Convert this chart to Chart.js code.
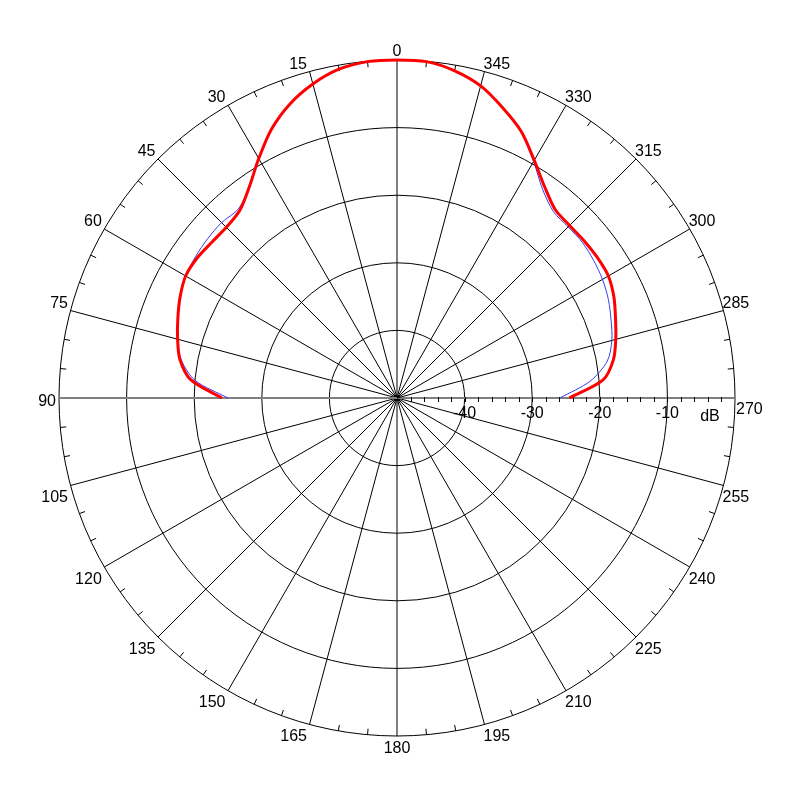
<!DOCTYPE html>
<html>
<head>
<meta charset="utf-8">
<title>Polar pattern</title>
<script src="https://cdn.jsdelivr.net/npm/chart.js@4.4.1/dist/chart.umd.min.js"></script>
<style>
    html, body { margin: 0; padding: 0; background: #fff; }
    #wrap { width: 800px; height: 800px; }
</style>
</head>
<body>
<div id="wrap"><canvas id="polarChart"></canvas></div>
<script>
// Angle of every spoke slot, clockwise on screen starting at the left (90)
const angleLabels = [
    90, 85, 80, 75, 70, 65, 60, 55, 50, 45, 40, 35, 30, 25, 20, 15, 10, 5,
    0, 355, 350, 345, 340, 335, 330, 325, 320, 315, 310, 305, 300, 295, 290, 285, 280, 275,
    270, 265, 260, 255, 250, 245, 240, 235, 230, 225, 220, 215, 210, 205, 200, 195, 190, 185,
    180, 175, 170, 165, 160, 155, 150, 145, 140, 135, 130, 125, 120, 115, 110, 105, 100, 95
];

// Measured levels (dB) from 90 through 0 to 270, every 5 degrees
const redDb = [
    -24.1, -19.4, -17.4, -16.4, -15.5, -14.6, -13.9, -13.9, -14.2, -14.3, -13.8, -11.9, -9.1, -6.1, -3.7, -1.9, -0.6, -0.05,
    0,
    -0.05, -0.85, -2.2, -4.3, -6.5, -9.4, -11.9, -13.6, -13.9, -13.85, -13.8, -13.9, -14.6, -15.6, -16.5, -17.5, -19.4, -24.5
];
const blueDb = [
    -25.0, -20.0, -17.6, -16.4, -15.5, -14.6, -13.9, -13.6, -13.4, -13.3, -13.5, -11.9, -9.1, -6.1, -3.7, -1.9, -0.6, -0.05,
    0,
    -0.05, -0.85, -2.2, -4.3, -6.6, -9.6, -12.4, -14.0, -14.2, -14.2, -14.5, -14.9, -15.5, -16.3, -17.1, -18.4, -21.3, -25.9
];

const dbRingLabels = [-40, -30, -20, -10];
const dbMinorTicks = [-48, -46, -44, -42, -40, -38, -36, -34, -32, -30, -28, -26, -24, -22, -20,
    -18, -16, -14, -12, -10, -8, -6, -4, -2];

// pad the back half (no data) with gaps
function fullRing(values) {
    const out = values.slice();
    while (out.length < angleLabels.length) out.push(null);
    return out;
}

const font = '16px "Liberation Sans", Arial, sans-serif';

const polarDecor = {
    id: "polarDecor",
    beforeDatasetsDraw(chart) {
        const r = chart.scales.r;
        const ctx = chart.ctx;
        const outer = r.getDistanceFromCenterForValue(r.max);
        const axisIdx = angleLabels.indexOf(270);
        ctx.save();
        ctx.strokeStyle = "#000";
        ctx.lineWidth = 1;
        ctx.beginPath();
        // short inward ticks on the rim every 5 degrees
        angleLabels.forEach((a, i) => {
            if (a % 15 === 0) return;
            const p1 = r.getPointPosition(i, outer);
            const p2 = r.getPointPosition(i, outer - 6);
            ctx.moveTo(p1.x, p1.y);
            ctx.lineTo(p2.x, p2.y);
        });
        // dB ticks along the 270 axis
        dbMinorTicks.forEach((v) => {
            const p = r.getPointPositionForValue(axisIdx, v);
            ctx.moveTo(Math.round(p.x) + 0.5, p.y - 1);
            ctx.lineTo(Math.round(p.x) + 0.5, p.y + 4);
        });
        ctx.stroke();
        ctx.restore();
    },
    afterDraw(chart) {
        const r = chart.scales.r;
        const ctx = chart.ctx;
        const outer = r.getDistanceFromCenterForValue(r.max);
        const axisIdx = angleLabels.indexOf(270);
        ctx.save();
        ctx.fillStyle = "#000";
        ctx.font = font;
        ctx.textBaseline = "alphabetic";

        angleLabels.forEach((a, i) => {
            if (a % 15 !== 0) return;
            const p = r.getPointPosition(i, outer);
            let x = p.x, y = p.y;
            if (a === 0) { ctx.textAlign = "center"; y -= 4.5; }
            else if (a === 180) { ctx.textAlign = "center"; y += 17.3; }
            else if (a === 90) { ctx.textAlign = "right"; x -= 3; y += 8; }
            else if (a === 270) { ctx.textAlign = "left"; x += 1; y += 15.5; }
            else if (a < 90) { ctx.textAlign = "right"; x -= 2.5; y -= 3; }
            else if (a < 180) { ctx.textAlign = "right"; x -= 2.5; y += 16.5; }
            else if (a < 270) { ctx.textAlign = "left"; x -= 1; y += 16.5; }
            else { ctx.textAlign = "left"; x -= 1; y -= 3; }
            ctx.fillText(String(a), x, y);
        });

        ctx.textAlign = "center";
        dbRingLabels.forEach((v) => {
            const p = r.getPointPositionForValue(axisIdx, v);
            ctx.fillText(String(v), p.x, p.y + 19.5);
        });
        const u = r.getPointPositionForValue(axisIdx, -3.7);
        ctx.fillText("dB", u.x, u.y + 22.5);
        ctx.restore();
    }
};

const ctx = document.getElementById("polarChart").getContext("2d");
new Chart(ctx, {
    type: "radar",
    data: {
        labels: angleLabels,
        datasets: [
            {
                label: "Measured",
                data: fullRing(redDb),
                borderColor: "#ff0000",
                borderWidth: 3,
                pointRadius: 0,
                fill: false,
                spanGaps: false,
                tension: 0.3,
                order: 0,
            },
            {
                label: "Reference",
                data: fullRing(blueDb),
                borderColor: "#3a3af0",
                borderWidth: 1,
                pointRadius: 0,
                fill: false,
                spanGaps: false,
                tension: 0.3,
                order: 1,
            },
        ],
    },
    options: {
        responsive: true,
        maintainAspectRatio: false,
        animation: false,
        layout: { padding: { left: 59, right: 65, top: 60, bottom: 64 } },
        plugins: {
            legend: { display: false },
            tooltip: { enabled: false },
        },
        scales: {
            r: {
                min: -50,
                max: 0,
                startAngle: -90,
                ticks: { display: false, stepSize: 10 },
                grid: { circular: true, color: "#000", lineWidth: 1 },
                angleLines: {
                    color: (c) => {
                        const a = angleLabels[c.index];
                        if (a % 15 !== 0) return "rgba(0,0,0,0)";
                        return a === 90 || a === 270 ? "#808080" : "#000";
                    },
                    lineWidth: (c) => {
                        const a = angleLabels[c.index];
                        if (a % 15 !== 0) return 0;
                        return a === 90 || a === 270 ? 2 : 1;
                    },
                },
                pointLabels: { display: false },
            },
        },
    },
    plugins: [polarDecor],
});
</script>
</body>
</html>
